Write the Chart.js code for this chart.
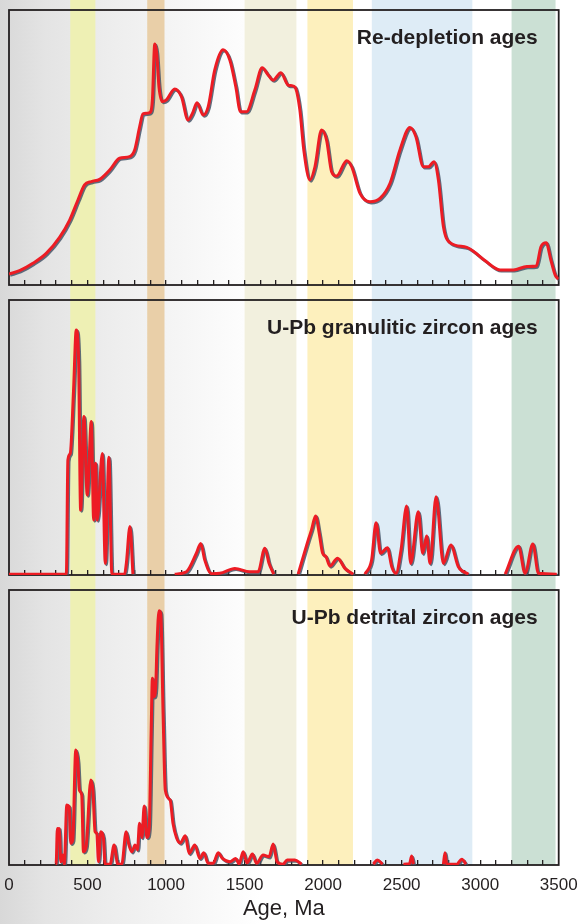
<!DOCTYPE html>
<html><head><meta charset="utf-8">
<script src="https://cdn.jsdelivr.net/npm/chart.js@4.4.1/dist/chart.umd.min.js"></script>
<style>
html,body{margin:0;padding:0;width:580px;height:924px;overflow:hidden;}
body{background:linear-gradient(90deg,#d8d8d8 0%,#e4e4e4 8%,#eeeeee 20%,#f6f6f6 32%,#ffffff 45%);}
.p{position:absolute;left:0;width:580px;}
</style></head><body>
<div class="p" style="top:0;height:290px"><canvas id="c1"></canvas></div>
<div class="p" style="top:290px;height:290px"><canvas id="c2"></canvas></div>
<div class="p" style="top:580px;height:344px"><canvas id="c3"></canvas></div>
<script>
// ---- data ----
const tickValues = [0,500,1000,1500,2000,2500,3000,3500];
const tickLabels = ['0','500','1000','1500','2000','2500','3000','3500'];
const panelTitles = ['Re-depletion ages','U-Pb granulitic zircon ages','U-Pb detrital zircon ages'];
const axisTitle = 'Age, Ma';

const bandStarts = [390, 880, 1500, 1900, 2310, 3200];
const bandEnds   = [550, 990, 1830, 2190, 2950, 3480];

const redepAges = [0,67,152,237,322,386,439,481,524,577,641,704,768,800,832,853,896,913,928,940,955,977,1002,1055,1098,1140,1168,1197,1236,1268,1310,1363,1406,1444,1474,1512,1565,1612,1650,1682,1731,1777,1800,1822,1852,1877,1916,1948,1990,2022,2054,2086,2150,2182,2235,2298,2362,2426,2489,2553,2591,2638,2670,2706,2734,2766,2808,2915,3021,3127,3212,3297,3357,3387,3420,3450,3478,3499];
const redepVals = [4.0,5.2,7.9,11.5,17.3,23.6,30.9,36.4,37.6,38.4,41.8,46.1,46.7,49.1,57.6,62.2,62.7,67.3,87.6,84.5,72,66.7,67.3,71.3,68.5,60,62.4,66.3,61.8,64.8,78.2,85.5,81.8,72.1,63,63,70.9,79,76.4,74.5,77.2,72.7,72.5,71.9,63.6,49.1,38.2,43,56.4,52.7,41.2,39.6,45.2,43,33.3,30.3,31.5,37,49.1,57.3,53.9,43,43,44.8,38.2,21.2,15.4,13.7,9.3,5.5,5.5,6.7,6.9,13.9,15.4,9.1,3.6,2.1];

const granAges = [0,365,375,390,411,428,443,456,477,498,524,539,551,562,594,613,636,655,736,747,770,789,900,1055,1130,1193,1221,1246,1289,1342,1438,1533,1586,1629,1656,1686,1760,1841,1905,1926,1952,1975,1997,2018,2043,2092,2139,2192,2230,2266,2309,2337,2366,2409,2437,2464,2496,2532,2557,2606,2634,2659,2681,2719,2766,2813,2861,2925,3050,3159,3244,3286,3335,3371,3488];
const granVals = [0.3,0.3,41.8,44.2,67.3,89.1,78.2,23.6,57.6,29.1,55.8,20,40.6,20,44.2,4.2,42.8,0.3,0.3,4.2,17.6,0.3,null,0.3,1.2,7.9,11.5,5.5,0.5,0.6,2.4,1.2,1.2,9.7,4.2,0.3,null,0.3,12.7,16.4,21.5,15.2,7.9,6.7,3.3,6.1,2.4,0.3,null,0.3,5.5,19,7.9,9.9,3,0.6,9.1,25.1,4.2,23,7.9,14.2,4.2,28.5,4.2,10.9,3,0.3,null,0.3,10.5,0.6,11.3,0.6,0.3];

const detrAges = [296,300,308,321,329,342,352,368,383,393,406,425,438,448,463,474,491,521,534,548,559,570,584,601,612,644,669,693,718,746,761,782,803,818,831,846,861,878,893,905,913,923,934,942,955,966,981,995,1026,1044,1066,1090,1123,1147,1183,1215,1240,1268,1300,1332,1359,1406,1444,1465,1491,1516,1550,1576,1618,1656,1682,1707,1745,1771,1820,1863,2000,2319,2345,2379,2450,2511,2550,2564,2575,2700,2766,2776,2787,2851,2883,2910];
const detrVals = [0.3,0.3,13.3,13.2,1.2,3.6,0.3,21.8,21.2,7.9,9.1,41.8,37.6,27.3,25.5,4.8,6.7,30.9,27.3,12.1,11.5,1.2,12.1,10,0.3,0.3,7.3,0.3,0.3,12.1,7.9,4.8,7.3,5.5,15.2,10,21.5,10,13.9,48,67.9,61.2,64.8,79.4,92.5,91.5,55.2,27.3,23.6,15.2,10,8,10.6,4.2,7.3,2.4,4.5,0.6,0.6,4.5,2.4,1.2,2.4,0.4,4.8,0.8,4,0.6,3.6,3,7.6,1.2,0.3,1.8,1.8,0.3,null,0.3,1.8,0.3,null,0.3,0.5,3.3,0.3,null,0.3,4.5,0.3,0.3,2.1,0.3];

// ---- styles ----
const bandColors = ['#eef0b4','#e9cfa8','#f2f0de','#fdf0bd','#deecf6','#cbe0d4'];
const INK = '#231f20';
const FONT = '"Liberation Sans", Arial, Helvetica, sans-serif';

const bandsPlugin = {
  id: 'bands',
  beforeDraw(chart, args, opts) {
    const {ctx, scales: {x}, chartArea} = chart;
    const bottom = opts.toAxis ? chartArea.bottom : chart.height;
    ctx.save();
    bandStarts.forEach((s, i) => {
      const x0 = x.getPixelForValue(s), x1 = x.getPixelForValue(bandEnds[i]);
      ctx.fillStyle = bandColors[i];
      ctx.fillRect(x0, 0, x1 - x0, bottom);
    });
    ctx.restore();
  }
};
const framePlugin = {
  id: 'frame',
  beforeDatasetsDraw(chart, args, opts) {
    const {ctx, chartArea: a} = chart;
    ctx.save();
    ctx.strokeStyle = INK;
    ctx.lineWidth = 1.8;
    ctx.strokeRect(a.left, a.top, a.right - a.left, a.bottom - a.top);
    ctx.fillStyle = INK;
    ctx.font = 'bold 21px ' + FONT;
    ctx.textAlign = 'right';
    ctx.textBaseline = 'alphabetic';
    ctx.fillText(opts.title, a.right - 21, a.top + 34);
    ctx.restore();
    // shadow for the curve
    ctx.save();
    ctx.shadowColor = 'rgba(70,85,105,0.85)';
    ctx.shadowOffsetX = 1.2;
    ctx.shadowOffsetY = 1.2;
    ctx.shadowBlur = 0;
  },
  afterDatasetsDraw(chart) {
    chart.ctx.restore();
  }
};

function makePanel(id, ages, vals, titleIdx, bottomPanel) {
  const pts = ages.map((a, i) => ({x: a, y: vals[i]}));
  return new Chart(document.getElementById(id), {
    type: 'line',
    data: { datasets: [{
      data: pts,
      borderColor: '#ed1c24',
      borderWidth: 3,
      pointRadius: 0,
      cubicInterpolationMode: 'monotone',
      spanGaps: false,
      fill: false
    }]},
    options: {
      responsive: true,
      maintainAspectRatio: false,
      animation: false,
      events: [],
      layout: { padding: { left: 9, right: 21.3, top: 10, bottom: bottomPanel ? 0 : 5 } },
      plugins: {
        legend: { display: false },
        tooltip: { enabled: false },
        bands: { toAxis: bottomPanel },
        frame: { title: panelTitles[titleIdx] }
      },
      scales: {
        x: {
          type: 'linear', min: 0, max: 3500,
          afterFit: s => { s.height = bottomPanel ? 59 : 0; s.paddingLeft = 0; s.paddingRight = 0; },
          border: { display: false },
          grid: {
            drawOnChartArea: false,
            drawTicks: true,
            tickLength: -5,
            lineWidth: 1.3,
            color: c => (c.tick && (c.tick.value === 0 || c.tick.value === 3500)) ? 'rgba(0,0,0,0)' : INK
          },
          ticks: {
            display: bottomPanel,
            stepSize: 100,
            autoSkip: false,
            maxRotation: 0,
            padding: 15,
            color: INK,
            font: { family: FONT, size: 17 },
            callback: v => { const k = tickValues.indexOf(v); return k >= 0 ? tickLabels[k] : ''; }
          },
          title: {
            display: bottomPanel,
            text: axisTitle,
            color: INK,
            font: { family: FONT, size: 22 },
            padding: { top: 0, bottom: 2 }
          }
        },
        y: { display: false, min: 0, max: 100 }
      }
    },
    plugins: [bandsPlugin, framePlugin]
  });
}

makePanel('c1', redepAges, redepVals, 0, false);
makePanel('c2', granAges, granVals, 1, false);
makePanel('c3', detrAges, detrVals, 2, true);
</script>
</body></html>
